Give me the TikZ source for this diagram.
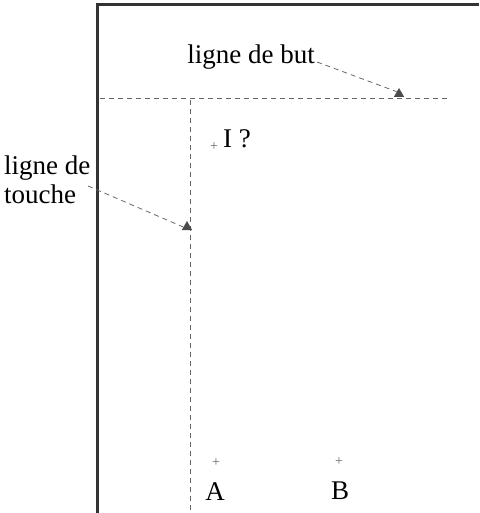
\documentclass[tikz,border=0pt]{standalone}
\usepackage{fontspec}
\setmainfont{Liberation Serif}
\usetikzlibrary{shapes.geometric}
\begin{document}
\begin{tikzpicture}[x=1pt,y=-1pt,
  border/.style={draw=black!80,line width=3pt},
  field/.style={draw=black!60,line width=0.8pt,dash pattern=on 5pt off 4pt},
  leader/.style={draw=black!60,line width=0.8pt,dash pattern=on 5pt off 4pt},
  marker/.style={fill=black!70,draw=none,regular polygon,regular polygon sides=3,inner sep=0pt,minimum size=12pt},
  lab/.style={font=\fontsize{27}{29}\selectfont,inner sep=1pt},
  pt/.style={font=\fontsize{14}{14}\selectfont,text=black!60,inner sep=0pt}]
\useasboundingbox (0,0) rectangle (479,513);
\coordinate (tl) at (97,5);
\coordinate (tr) at (479,5);
\coordinate (bl) at (97,513);
\draw[border] (tr) -- (tl) -- (bl);
\coordinate (gl0) at (100,98);
\coordinate (gl1) at (448,98);
\draw[field] (gl0) -- (gl1);
\coordinate (tl0) at (190,100);
\coordinate (tl1) at (190,513);
\draw[field] (tl0) -- (tl1);
\node[marker] (m1) at (399,94) {};
\node[marker] (m2) at (187,227) {};
\node[lab] (but) at (251,57) {ligne de but};
\node[lab,align=left,anchor=west] (touche) at (3,180) {ligne de\\touche};
\coordinate (b0) at (317,62);
\draw[leader] (b0) -- (m1.north west);
\coordinate (t0) at (88,186);
\draw[leader] (t0) -- (m2.west);
\node[pt] (pI) at (214,147) {+};
\node[lab,anchor=west] (I) at (222,139) {I ?};
\node[pt] (pA) at (216,463) {+};
\node[pt] (pB) at (339,462) {+};
\node[lab] (A) at (215,492) {A};
\node[lab] (B) at (340,491) {B};
\end{tikzpicture}
\end{document}
